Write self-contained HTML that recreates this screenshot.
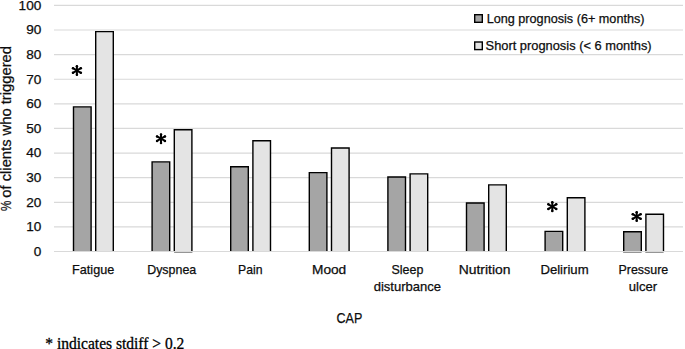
<!DOCTYPE html>
<html><head><meta charset="utf-8"><style>
html,body{margin:0;padding:0;background:#fff;width:685px;height:349px;overflow:hidden}
svg{display:block}
.t{font-family:"Liberation Sans",sans-serif;font-size:13px;fill:#0d0d0d;stroke:#0d0d0d;stroke-width:0.25px}
</style></head><body>
<svg width="685" height="349" viewBox="0 0 685 349">
<line x1="54" x2="683" y1="5.40" y2="5.40" stroke="#d9d9d9" stroke-width="1.2"/>
<line x1="54" x2="683" y1="30.01" y2="30.01" stroke="#d9d9d9" stroke-width="1.2"/>
<line x1="54" x2="683" y1="54.62" y2="54.62" stroke="#d9d9d9" stroke-width="1.2"/>
<line x1="54" x2="683" y1="79.23" y2="79.23" stroke="#d9d9d9" stroke-width="1.2"/>
<line x1="54" x2="683" y1="103.84" y2="103.84" stroke="#d9d9d9" stroke-width="1.2"/>
<line x1="54" x2="683" y1="128.45" y2="128.45" stroke="#d9d9d9" stroke-width="1.2"/>
<line x1="54" x2="683" y1="153.06" y2="153.06" stroke="#d9d9d9" stroke-width="1.2"/>
<line x1="54" x2="683" y1="177.67" y2="177.67" stroke="#d9d9d9" stroke-width="1.2"/>
<line x1="54" x2="683" y1="202.28" y2="202.28" stroke="#d9d9d9" stroke-width="1.2"/>
<line x1="54" x2="683" y1="226.89" y2="226.89" stroke="#d9d9d9" stroke-width="1.2"/>
<line x1="54" x2="683" y1="251.50" y2="251.50" stroke="#d9d9d9" stroke-width="1.2"/>
<rect x="73.50" y="106.90" width="17.60" height="144.30" fill="#a5a5a5"/><path d="M73.50 251.20V106.90H91.10V251.20" fill="none" stroke="#000" stroke-width="1.4" stroke-linejoin="miter"/>
<rect x="95.70" y="31.60" width="17.60" height="219.60" fill="#e4e4e4"/><path d="M95.70 251.20V31.60H113.30V251.20" fill="none" stroke="#000" stroke-width="1.4" stroke-linejoin="miter"/>
<rect x="152.10" y="161.90" width="17.60" height="89.30" fill="#a5a5a5"/><path d="M152.10 251.20V161.90H169.70V251.20" fill="none" stroke="#000" stroke-width="1.4" stroke-linejoin="miter"/>
<rect x="174.30" y="129.70" width="17.60" height="121.50" fill="#e4e4e4"/><path d="M174.30 251.20V129.70H191.90V251.20" fill="none" stroke="#000" stroke-width="1.4" stroke-linejoin="miter"/>
<rect x="230.70" y="166.80" width="17.60" height="84.40" fill="#a5a5a5"/><path d="M230.70 251.20V166.80H248.30V251.20" fill="none" stroke="#000" stroke-width="1.4" stroke-linejoin="miter"/>
<rect x="252.90" y="140.75" width="17.60" height="110.45" fill="#e4e4e4"/><path d="M252.90 251.20V140.75H270.50V251.20" fill="none" stroke="#000" stroke-width="1.4" stroke-linejoin="miter"/>
<rect x="309.30" y="172.65" width="17.60" height="78.55" fill="#a5a5a5"/><path d="M309.30 251.20V172.65H326.90V251.20" fill="none" stroke="#000" stroke-width="1.4" stroke-linejoin="miter"/>
<rect x="331.50" y="148.00" width="17.60" height="103.20" fill="#e4e4e4"/><path d="M331.50 251.20V148.00H349.10V251.20" fill="none" stroke="#000" stroke-width="1.4" stroke-linejoin="miter"/>
<rect x="387.90" y="177.00" width="17.60" height="74.20" fill="#a5a5a5"/><path d="M387.90 251.20V177.00H405.50V251.20" fill="none" stroke="#000" stroke-width="1.4" stroke-linejoin="miter"/>
<rect x="410.10" y="173.90" width="17.60" height="77.30" fill="#e4e4e4"/><path d="M410.10 251.20V173.90H427.70V251.20" fill="none" stroke="#000" stroke-width="1.4" stroke-linejoin="miter"/>
<rect x="466.50" y="203.00" width="17.60" height="48.20" fill="#a5a5a5"/><path d="M466.50 251.20V203.00H484.10V251.20" fill="none" stroke="#000" stroke-width="1.4" stroke-linejoin="miter"/>
<rect x="488.70" y="184.90" width="17.60" height="66.30" fill="#e4e4e4"/><path d="M488.70 251.20V184.90H506.30V251.20" fill="none" stroke="#000" stroke-width="1.4" stroke-linejoin="miter"/>
<rect x="545.10" y="231.40" width="17.60" height="19.80" fill="#a5a5a5"/><path d="M545.10 251.20V231.40H562.70V251.20" fill="none" stroke="#000" stroke-width="1.4" stroke-linejoin="miter"/>
<rect x="567.30" y="197.80" width="17.60" height="53.40" fill="#e4e4e4"/><path d="M567.30 251.20V197.80H584.90V251.20" fill="none" stroke="#000" stroke-width="1.4" stroke-linejoin="miter"/>
<rect x="623.70" y="231.80" width="17.60" height="19.40" fill="#a5a5a5"/><path d="M623.70 251.20V231.80H641.30V251.20" fill="none" stroke="#000" stroke-width="1.4" stroke-linejoin="miter"/>
<rect x="645.90" y="214.20" width="17.60" height="37.00" fill="#e4e4e4"/><path d="M645.90 251.20V214.20H663.50V251.20" fill="none" stroke="#000" stroke-width="1.4" stroke-linejoin="miter"/>
<line x1="54" x2="683" y1="251.50" y2="251.50" stroke="#d9d9d9" stroke-width="1.2"/>
<rect x="174.1" y="252.0" width="18.30" height="0.9" fill="#8a8a8a"/>
<rect x="623.1" y="252.0" width="18.50" height="0.9" fill="#8a8a8a"/>
<rect x="645.3" y="252.0" width="18.30" height="0.9" fill="#8a8a8a"/>
<g stroke="#000" fill="#000" stroke-width="2.0" stroke-linecap="round"><line x1="76.90" y1="66.20" x2="76.90" y2="74.80"/><circle stroke="none" cx="76.90" cy="66.20" r="1.25"/><circle stroke="none" cx="76.90" cy="74.80" r="1.25"/><line x1="72.96" y1="68.22" x2="80.84" y2="72.78"/><circle stroke="none" cx="72.96" cy="68.22" r="1.25"/><circle stroke="none" cx="80.84" cy="72.78" r="1.25"/><line x1="80.84" y1="68.22" x2="72.96" y2="72.78"/><circle stroke="none" cx="80.84" cy="68.22" r="1.25"/><circle stroke="none" cx="72.96" cy="72.78" r="1.25"/></g>
<g stroke="#000" fill="#000" stroke-width="2.0" stroke-linecap="round"><line x1="161.00" y1="134.40" x2="161.00" y2="143.00"/><circle stroke="none" cx="161.00" cy="134.40" r="1.25"/><circle stroke="none" cx="161.00" cy="143.00" r="1.25"/><line x1="157.06" y1="136.42" x2="164.94" y2="140.97"/><circle stroke="none" cx="157.06" cy="136.42" r="1.25"/><circle stroke="none" cx="164.94" cy="140.97" r="1.25"/><line x1="164.94" y1="136.42" x2="157.06" y2="140.97"/><circle stroke="none" cx="164.94" cy="136.42" r="1.25"/><circle stroke="none" cx="157.06" cy="140.97" r="1.25"/></g>
<g stroke="#000" fill="#000" stroke-width="2.0" stroke-linecap="round"><line x1="552.30" y1="202.30" x2="552.30" y2="210.90"/><circle stroke="none" cx="552.30" cy="202.30" r="1.25"/><circle stroke="none" cx="552.30" cy="210.90" r="1.25"/><line x1="548.36" y1="204.32" x2="556.24" y2="208.88"/><circle stroke="none" cx="548.36" cy="204.32" r="1.25"/><circle stroke="none" cx="556.24" cy="208.88" r="1.25"/><line x1="556.24" y1="204.32" x2="548.36" y2="208.88"/><circle stroke="none" cx="556.24" cy="204.32" r="1.25"/><circle stroke="none" cx="548.36" cy="208.88" r="1.25"/></g>
<g stroke="#000" fill="#000" stroke-width="2.0" stroke-linecap="round"><line x1="636.70" y1="212.20" x2="636.70" y2="220.80"/><circle stroke="none" cx="636.70" cy="212.20" r="1.25"/><circle stroke="none" cx="636.70" cy="220.80" r="1.25"/><line x1="632.76" y1="214.22" x2="640.64" y2="218.78"/><circle stroke="none" cx="632.76" cy="214.22" r="1.25"/><circle stroke="none" cx="640.64" cy="218.78" r="1.25"/><line x1="640.64" y1="214.22" x2="632.76" y2="218.78"/><circle stroke="none" cx="640.64" cy="214.22" r="1.25"/><circle stroke="none" cx="632.76" cy="218.78" r="1.25"/></g>
<text x="41.3" y="255.80" text-anchor="end" class="t" style="font-size:13.6px">0</text>
<text x="41.3" y="231.19" text-anchor="end" class="t" style="font-size:13.6px">10</text>
<text x="41.3" y="206.58" text-anchor="end" class="t" style="font-size:13.6px">20</text>
<text x="41.3" y="181.97" text-anchor="end" class="t" style="font-size:13.6px">30</text>
<text x="41.3" y="157.36" text-anchor="end" class="t" style="font-size:13.6px">40</text>
<text x="41.3" y="132.75" text-anchor="end" class="t" style="font-size:13.6px">50</text>
<text x="41.3" y="108.14" text-anchor="end" class="t" style="font-size:13.6px">60</text>
<text x="41.3" y="83.53" text-anchor="end" class="t" style="font-size:13.6px">70</text>
<text x="41.3" y="58.92" text-anchor="end" class="t" style="font-size:13.6px">80</text>
<text x="41.3" y="34.31" text-anchor="end" class="t" style="font-size:13.6px">90</text>
<text x="41.3" y="9.70" text-anchor="end" class="t" style="font-size:13.6px">100</text>
<text x="72.10" y="273.80" textLength="42.20" lengthAdjust="spacingAndGlyphs" class="t">Fatigue</text>
<text x="147.20" y="273.80" textLength="49.00" lengthAdjust="spacingAndGlyphs" class="t">Dyspnea</text>
<text x="238.10" y="273.80" textLength="24.50" lengthAdjust="spacingAndGlyphs" class="t">Pain</text>
<text x="312.00" y="273.80" textLength="34.20" lengthAdjust="spacingAndGlyphs" class="t">Mood</text>
<text x="391.50" y="273.80" textLength="31.80" lengthAdjust="spacingAndGlyphs" class="t">Sleep</text>
<text x="373.70" y="290.90" textLength="67.40" lengthAdjust="spacingAndGlyphs" class="t">disturbance</text>
<text x="458.70" y="273.80" textLength="51.80" lengthAdjust="spacingAndGlyphs" class="t">Nutrition</text>
<text x="540.40" y="273.80" textLength="48.20" lengthAdjust="spacingAndGlyphs" class="t">Delirium</text>
<text x="618.50" y="273.80" textLength="49.80" lengthAdjust="spacingAndGlyphs" class="t">Pressure</text>
<text x="628.80" y="290.90" textLength="28.40" lengthAdjust="spacingAndGlyphs" class="t">ulcer</text>
<text x="336.5" y="322.5" textLength="25.8" lengthAdjust="spacingAndGlyphs" class="t" style="font-size:15.3px">CAP</text>
<rect x="474.7" y="14.7" width="7.6" height="7.6" fill="#a5a5a5" stroke="#000" stroke-width="1.4"/>
<rect x="474.7" y="42.0" width="7.6" height="7.6" fill="#e4e4e4" stroke="#000" stroke-width="1.4"/>
<text x="486.7" y="22.7" textLength="157.8" lengthAdjust="spacingAndGlyphs" class="t">Long prognosis (6+ months)</text>
<text x="485.6" y="49.9" textLength="166.0" lengthAdjust="spacingAndGlyphs" class="t">Short prognosis (&lt; 6 months)</text>
<text transform="translate(11.2 210.9) rotate(-90)" x="0" y="0" textLength="10.4" lengthAdjust="spacingAndGlyphs" class="t" style="font-size:14.5px">%</text>
<text transform="translate(11.2 197.7) rotate(-90)" x="0" y="0" textLength="151.7" lengthAdjust="spacingAndGlyphs" class="t" style="font-size:14.5px">of clients who triggered</text>
<text x="45.3" y="348.6" textLength="139" lengthAdjust="spacingAndGlyphs" style="font-family:'Liberation Serif',serif;font-size:16px" fill="#000" stroke="#000" stroke-width="0.3">* indicates stdiff &gt; 0.2</text>
</svg>
</body></html>
